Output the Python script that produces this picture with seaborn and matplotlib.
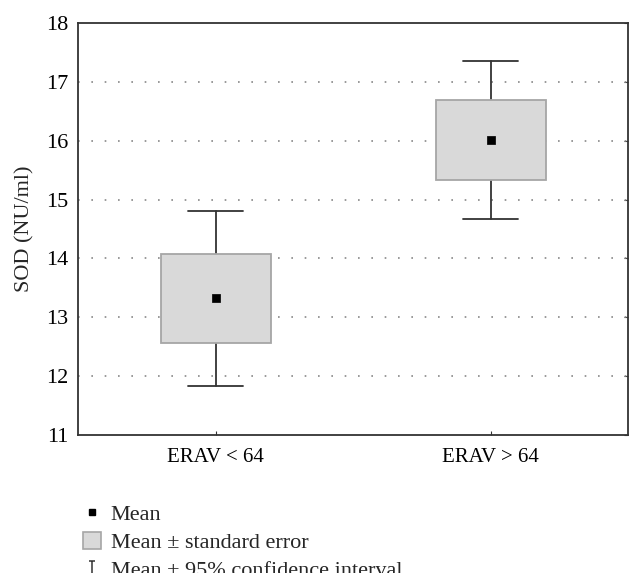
import matplotlib
matplotlib.use("Agg")
import matplotlib.pyplot as plt
import seaborn as sns
import pandas as pd
from matplotlib.lines import Line2D
from matplotlib.patches import Patch, Rectangle
from matplotlib.path import Path

# ── Data ─────────────────────────────────────────────────────────────────────
groups   = ["ERAV < 64", "ERAV > 64"]
means    = [13.32, 16.02]
se_low   = [12.56, 15.33]
se_high  = [14.08, 16.70]
ci_low   = [11.83, 14.67]
ci_high  = [14.80, 17.35]
y_ticks  = [11, 12, 13, 14, 15, 16, 17, 18]

legend_labels = ["Mean", "Mean \u00b1 standard error", "Mean \u00b1 95% confidence interval"]

sns.set_style("white")
plt.rcParams["font.family"] = ["Liberation Serif", "DejaVu Serif"]

fig = plt.figure(figsize=(6.43, 5.86), dpi=100)
ax = fig.add_axes([78 / 643, 1 - 435 / 586, 550 / 643, 412 / 586])

pos = list(range(len(groups)))
dark = "#333333"

# whiskers (95% CI)
for x, lo, hi in zip(pos, ci_low, ci_high):
    ax.plot([x, x], [lo, hi], color=dark, lw=1.3, zorder=2)
    ax.plot([x - 0.1, x + 0.1], [lo, lo], color=dark, lw=1.3, zorder=2)
    ax.plot([x - 0.1, x + 0.1], [hi, hi], color=dark, lw=1.3, zorder=2)

# boxes (mean ± SE)
heights = [h - l for h, l in zip(se_high, se_low)]
ax.bar(pos, heights, bottom=se_low, width=0.4, color="#d9d9d9",
       edgecolor="#a6a6a6", linewidth=1.3, zorder=3)

# means
df = pd.DataFrame({"x": pos, "mean": means})
sns.scatterplot(data=df, x="x", y="mean", marker="s", s=40, color="black",
                edgecolor="black", zorder=4, ax=ax, legend=False)

ax.set_xlim(-0.5, 1.5)
ax.set_ylim(11, 18)
ax.set_xticks(pos)
ax.set_xticklabels(groups, fontsize=15)
ax.set_yticks(y_ticks)
ax.set_yticklabels([str(t) for t in y_ticks], fontsize=16)
ax.set_xlabel("")
ax.set_ylabel("SOD (NU/ml)", fontsize=16, labelpad=8)
ax.tick_params(axis="x", direction="in", length=3, pad=9, bottom=True, top=False, colors=dark, labelcolor="black")
ax.tick_params(axis="y", direction="in", length=3, pad=7, left=False, right=True, colors=dark, labelcolor="black")

for t in y_ticks[1:-1]:
    ax.axhline(t, color="#888888", lw=1.2, linestyle=(0, (1, 7)), zorder=1)

for s in ax.spines.values():
    s.set_color(dark)
    s.set_linewidth(1.3)
    s.set_visible(True)

# legend
ibeam = Path([(-0.5, 1), (0.5, 1), (0, 1), (0, -1), (-0.5, -1), (0.5, -1)],
             [Path.MOVETO, Path.LINETO, Path.MOVETO, Path.LINETO, Path.MOVETO, Path.LINETO])
handles = [
    Line2D([], [], marker="s", color="black", linestyle="none", markersize=5),
    Patch(facecolor="#d9d9d9", edgecolor="#a6a6a6", linewidth=1.2),
    Line2D([], [], marker=ibeam, color=dark, markerfacecolor="none",
           linestyle="none", markersize=10, markeredgewidth=1.1),
]
fig.legend(handles, legend_labels, loc="upper left",
           bbox_to_anchor=(74 / 643, 1 - 495 / 586), frameon=False,
           fontsize=16, handlelength=0.8, handleheight=0.8, handletextpad=0.45,
           labelspacing=0.3, borderaxespad=0)

# the source image is cut off just below the last legend row
fig.patches.append(Rectangle((0, 0), 1, 13 / 586, transform=fig.transFigure,
                             facecolor="white", edgecolor="none", zorder=10))

fig.savefig("out.png", dpi=100)
